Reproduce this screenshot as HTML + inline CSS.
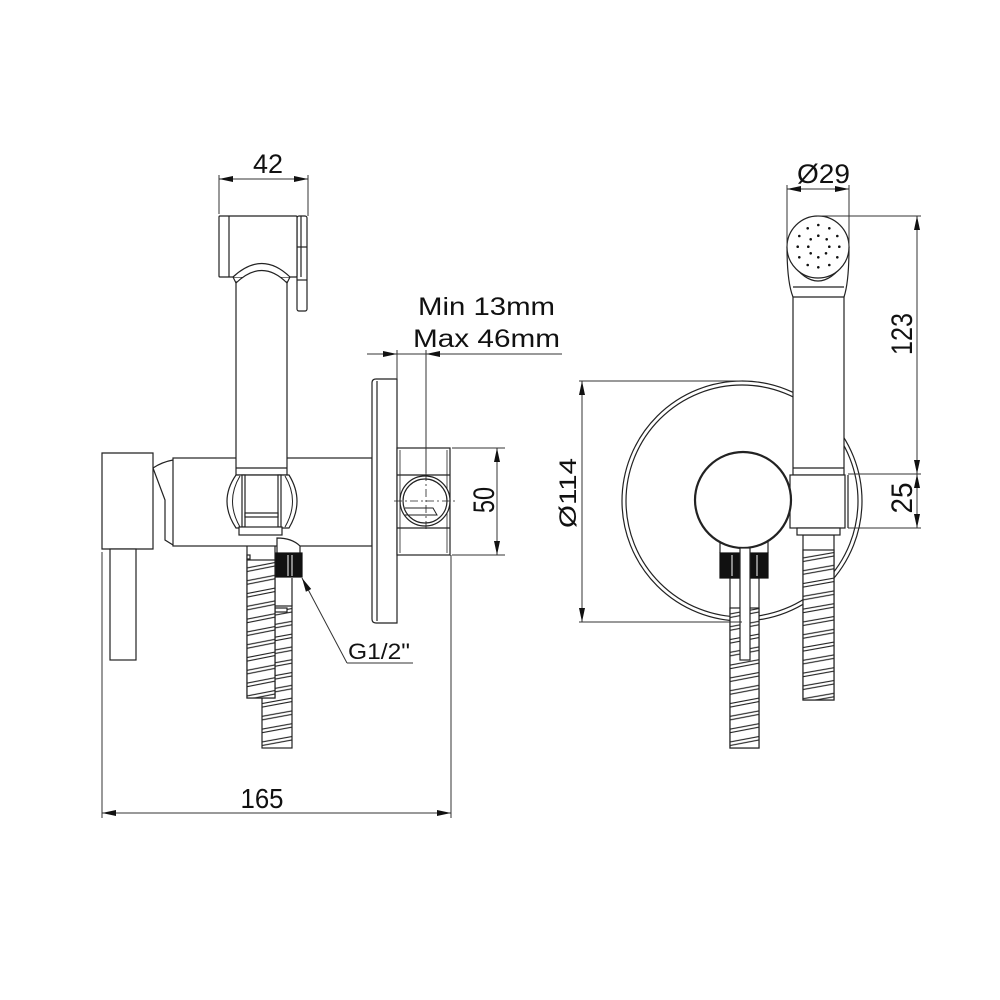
<!DOCTYPE html>
<html><head><meta charset="utf-8"><style>
html,body{margin:0;padding:0;background:#fff;}
svg{display:block;}
text{font-family:"Liberation Sans",sans-serif;fill:#111;}
</style></head><body>
<svg width="1000" height="1000" viewBox="0 0 1000 1000" xmlns="http://www.w3.org/2000/svg">
<defs>
 <pattern id="c1" patternUnits="userSpaceOnUse" x="247" y="560" width="28" height="12.8">
  <rect width="28" height="12.8" fill="#fff"/>
  <path d="M0 8 L28 2.5 M0 11.5 L28 6" stroke="#222" stroke-width="1.1" fill="none"/>
 </pattern>
 <pattern id="c2" patternUnits="userSpaceOnUse" x="262" y="606" width="30" height="12.8">
  <rect width="30" height="12.8" fill="#fff"/>
  <path d="M0 8 L30 2.5 M0 11.5 L30 6" stroke="#222" stroke-width="1.1" fill="none"/>
 </pattern>
 <pattern id="c3" patternUnits="userSpaceOnUse" x="803" y="550" width="31" height="12.8">
  <rect width="31" height="12.8" fill="#fff"/>
  <path d="M0 8 L31 2.5 M0 11.5 L31 6" stroke="#222" stroke-width="1.1" fill="none"/>
 </pattern>
 <pattern id="c4" patternUnits="userSpaceOnUse" x="730" y="606" width="29" height="12.8">
  <rect width="29" height="12.8" fill="#fff"/>
  <path d="M0 8 L29 2.5 M0 11.5 L29 6" stroke="#222" stroke-width="1.1" fill="none"/>
 </pattern>
</defs>

<g fill="#fff" stroke="#222" stroke-width="1.2">
<!-- ================= LEFT VIEW ================= -->
<line x1="292" y1="578" x2="292" y2="606"/>
<rect x="262" y="606" width="30" height="142" fill="url(#c2)"/>
<rect x="275" y="608" width="12" height="4"/>
<rect x="247" y="534" width="28" height="164"/>
<rect x="247" y="560" width="28" height="138" fill="url(#c1)"/>
<rect x="247" y="555" width="3" height="4"/>

<rect x="173" y="458" width="199" height="88"/>
<path d="M102 453 L153 453 L153 549 L102 549 Z"/>
<path d="M153 468 Q162 462 173 460 M153 468 L165 500 L165 540 L173 545" fill="none"/>
<rect x="110" y="549" width="26" height="111"/>

<path d="M397 379 L376 379 Q372 379 372 383 L372 619 Q372 623 376 623 L397 623 Z"/>
<line x1="377" y1="381" x2="377" y2="621"/>
<rect x="397" y="448" width="53" height="107"/>
<line x1="397" y1="475" x2="450" y2="475"/>
<line x1="397" y1="528" x2="450" y2="528"/>
<line x1="400" y1="450" x2="400" y2="553" stroke-width="0.8"/>
<line x1="447" y1="450" x2="447" y2="553" stroke-width="0.8"/>
<circle cx="425" cy="501" r="25"/>
<circle cx="425" cy="501" r="22" fill="none"/>
<path d="M405 508 L433 508 L437 515 L405 515" fill="none" stroke-width="1"/>
<line x1="394" y1="501" x2="456" y2="501" stroke-width="0.8" stroke-dasharray="8 3 2 3"/>
<line x1="426" y1="473" x2="426" y2="530" stroke-width="0.8" stroke-dasharray="8 3 2 3"/>

<path d="M277 553 L277 538 Q292 538 300 546 L300 553" fill="#fff"/>
<rect x="276" y="553" width="26" height="24" fill="#111" stroke="#111"/>
<line x1="288" y1="555" x2="288" y2="576" stroke="#fff" stroke-width="1"/>
<line x1="292" y1="555" x2="292" y2="576" stroke="#fff" stroke-width="1"/>

<rect x="236" y="282" width="51" height="193"/>
<line x1="236" y1="468" x2="287" y2="468"/>
<path d="M236 475 Q218 501 236 528 L289 528 Q305 501 289 475 Z"/>
<path d="M240 476 Q225 501 240 527 M285 476 Q300 501 285 527" fill="none" stroke-width="1"/>
<rect x="242" y="475" width="3" height="52"/>
<rect x="278" y="475" width="3" height="52"/>
<rect x="245" y="513" width="33" height="4"/>
<rect x="239" y="527" width="43" height="8"/>

<rect x="297" y="216" width="10" height="95" rx="2"/>
<line x1="301" y1="216" x2="301" y2="277"/>
<line x1="297" y1="247" x2="307" y2="247"/>
<line x1="297" y1="280" x2="307" y2="280"/>
<rect x="219" y="216" width="78" height="61" rx="1"/>
<line x1="229" y1="216" x2="229" y2="277"/>
<path d="M233 277 Q262 250 290 277 M236 283 Q262 258 287 283" fill="#fff"/>
<line x1="233" y1="277" x2="236" y2="283"/>
<line x1="290" y1="277" x2="287" y2="283"/>

<!-- ================= RIGHT VIEW ================= -->
<circle cx="742" cy="501" r="120" fill="none"/>
<circle cx="742" cy="501" r="116" fill="none"/>
<rect x="803" y="535" width="31" height="165"/>
<rect x="803" y="550" width="31" height="150" fill="url(#c3)"/>
<rect x="730" y="578" width="29" height="170"/>
<rect x="730" y="608" width="29" height="140" fill="url(#c4)"/>
<rect x="793" y="287" width="51" height="188"/>
<line x1="793" y1="468" x2="844" y2="468"/>
<rect x="790" y="475" width="55" height="53"/>
<line x1="848" y1="475" x2="848" y2="528"/>
<rect x="797" y="528" width="43" height="7"/>
<path d="M787 247 Q787 282 793 297 L844 297 Q849 282 849 247 Z"/>
<path d="M791 262 Q818 300 845 262" fill="none"/>
<line x1="793" y1="287" x2="844" y2="287"/>
<circle cx="818" cy="247" r="31"/>
<line x1="720" y1="540" x2="720" y2="553"/>
<line x1="768" y1="540" x2="768" y2="553"/>
<circle cx="743" cy="500" r="48" stroke-width="2.2"/>
<rect x="720" y="553" width="48" height="25" fill="#111" stroke="#111"/>
<line x1="732" y1="555" x2="732" y2="576" stroke="#fff" stroke-width="1"/>
<line x1="757" y1="555" x2="757" y2="576" stroke="#fff" stroke-width="1"/>
<rect x="740" y="548" width="10" height="112"/>
</g>

<g fill="#111">
<circle cx="807.7" cy="228.3" r="1.3"/><circle cx="818.3" cy="225" r="1.3"/><circle cx="829.3" cy="228.3" r="1.3"/>
<circle cx="799.3" cy="236" r="1.3"/><circle cx="810.7" cy="239.3" r="1.3"/><circle cx="818.3" cy="235.7" r="1.3"/><circle cx="826.7" cy="239.3" r="1.3"/><circle cx="837.3" cy="236" r="1.3"/>
<circle cx="797.7" cy="246.7" r="1.3"/><circle cx="808.3" cy="246.7" r="1.3"/><circle cx="829.3" cy="246.7" r="1.3"/><circle cx="839.3" cy="246.7" r="1.3"/>
<circle cx="799.3" cy="257.3" r="1.3"/><circle cx="810.7" cy="253.3" r="1.3"/><circle cx="818.3" cy="257.3" r="1.3"/><circle cx="826" cy="253.3" r="1.3"/><circle cx="837.3" cy="257.3" r="1.3"/>
<circle cx="807.7" cy="265" r="1.3"/><circle cx="818.3" cy="267.3" r="1.3"/><circle cx="829.3" cy="265" r="1.3"/>
</g>

<g stroke="#333" stroke-width="1" fill="none">
<line x1="219" y1="175" x2="219" y2="214"/>
<line x1="308" y1="175" x2="308" y2="216"/>
<line x1="219" y1="179" x2="308" y2="179"/>
<line x1="102" y1="552" x2="102" y2="818"/>
<line x1="451" y1="555" x2="451" y2="818"/>
<line x1="102" y1="813" x2="451" y2="813"/>
<line x1="367" y1="354" x2="562" y2="354"/>
<line x1="397" y1="350" x2="397" y2="379"/>
<line x1="426" y1="350" x2="426" y2="473"/>
<line x1="452" y1="448" x2="505" y2="448"/>
<line x1="452" y1="555" x2="505" y2="555"/>
<line x1="497" y1="448" x2="497" y2="555"/>
<line x1="302" y1="578" x2="347" y2="663"/>
<line x1="347" y1="663" x2="413" y2="663"/>
<line x1="787" y1="185" x2="787" y2="247"/>
<line x1="849" y1="185" x2="849" y2="247"/>
<line x1="787" y1="189" x2="849" y2="189"/>
<line x1="817" y1="216" x2="921" y2="216"/>
<line x1="848" y1="474" x2="921" y2="474"/>
<line x1="848" y1="528" x2="921" y2="528"/>
<line x1="917" y1="216" x2="917" y2="528"/>
<line x1="579" y1="381" x2="742" y2="381"/>
<line x1="579" y1="622" x2="742" y2="622"/>
<line x1="582" y1="381" x2="582" y2="622"/>
</g>

<g fill="#111">
<polygon points="219,179 233,176 233,182"/>
<polygon points="308,179 294,176 294,182"/>
<polygon points="102,813 116,810 116,816"/>
<polygon points="451,813 437,810 437,816"/>
<polygon points="397,354 383,351 383,357"/>
<polygon points="426,354 440,351 440,357"/>
<polygon points="497,448 494,462 500,462"/>
<polygon points="497,555 494,541 500,541"/>
<polygon points="302,578 311.2,589 305.9,591.8"/>
<polygon points="787,189 801,186 801,192"/>
<polygon points="849,189 835,186 835,192"/>
<polygon points="917,216 914,230 920,230"/>
<polygon points="917,474 914,460 920,460"/>
<polygon points="917,474 914,488 920,488"/>
<polygon points="917,528 914,514 920,514"/>
<polygon points="582,381 579,395 585,395"/>
<polygon points="582,622 579,608 585,608"/>
</g>

<text x="268" y="173" font-size="27" text-anchor="middle" textLength="30" lengthAdjust="spacingAndGlyphs">42</text>
<text x="262" y="808" font-size="28" text-anchor="middle" textLength="43" lengthAdjust="spacingAndGlyphs">165</text>
<text x="418" y="315" font-size="25" textLength="137" lengthAdjust="spacingAndGlyphs">Min 13mm</text>
<text x="413" y="347" font-size="25" textLength="147" lengthAdjust="spacingAndGlyphs">Max 46mm</text>
<text x="348" y="659" font-size="22" textLength="62" lengthAdjust="spacingAndGlyphs">G1/2"</text>
<text x="494" y="500" font-size="30" text-anchor="middle" textLength="26" lengthAdjust="spacingAndGlyphs" transform="rotate(-90 494 500)">50</text>
<text x="797" y="183" font-size="27" textLength="53" lengthAdjust="spacingAndGlyphs">Ø29</text>
<text x="912" y="334" font-size="30" text-anchor="middle" textLength="42" lengthAdjust="spacingAndGlyphs" transform="rotate(-90 912 334)">123</text>
<text x="912" y="498" font-size="30" text-anchor="middle" textLength="31" lengthAdjust="spacingAndGlyphs" transform="rotate(-90 912 498)">25</text>
<text x="576" y="493" font-size="24" text-anchor="middle" textLength="70" lengthAdjust="spacingAndGlyphs" transform="rotate(-90 576 493)">Ø114</text>
</svg>
</body></html>
